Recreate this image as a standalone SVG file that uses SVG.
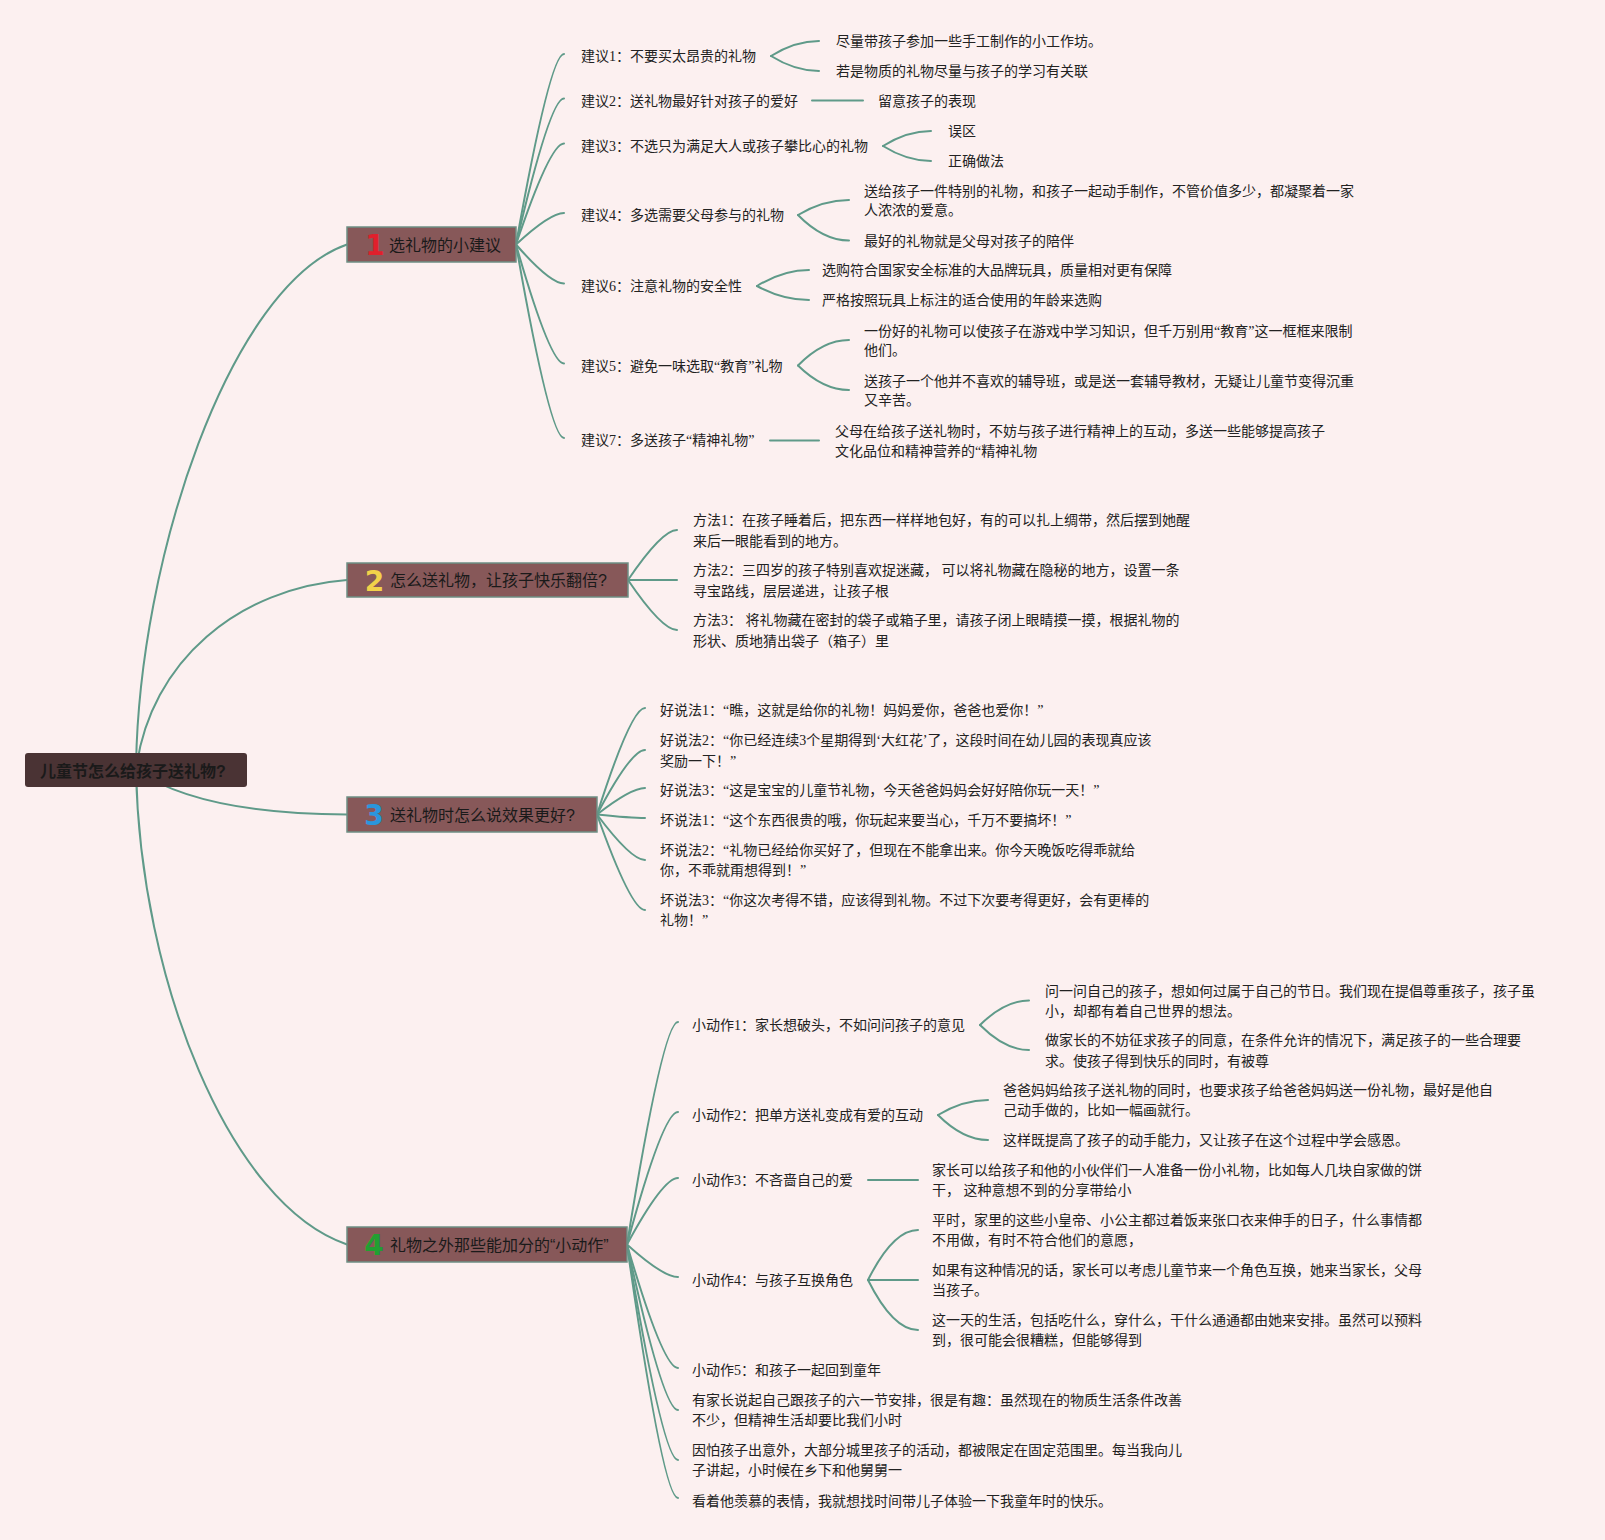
<svg xmlns="http://www.w3.org/2000/svg" width="1605" height="1540" viewBox="0 0 1605 1540">
<style>
.bg{fill:#fcf0f0}
.c{fill:none;stroke:#5f9a89;stroke-width:2;stroke-linecap:round}
.t{font-family:"Liberation Serif","Noto Sans CJK SC",serif;font-size:14px;fill:#222}
.nt{font-family:"Liberation Sans","Noto Sans CJK SC",sans-serif;font-size:16px;fill:#1a1a1a}
.node{fill:#875859;stroke:#6e8f84;stroke-width:1.5}
.num{font-family:"DejaVu Sans",sans-serif;font-weight:bold;font-size:28px;text-anchor:middle}
</style>
<rect class="bg" x="0" y="0" width="1605" height="1540"/>
<g id="connectors">
<path class="c" d="M136,770 C138,560 230,285 347,244.5"/>
<path class="c" d="M136,770 C150,660 240,588 347,580"/>
<path class="c" d="M136,770 Q200,814 347,814.5"/>
<path class="c" d="M136,770 C140,980 230,1205 347,1244.5"/>
<path class="c" d="M516,244.5 Q550,54 564,54"/>
<path class="c" d="M516,244.5 Q550,98.5 564,98.5"/>
<path class="c" d="M516,244.5 Q550,143.5 564,143.5"/>
<path class="c" d="M516,244.5 Q550,213 564,213"/>
<path class="c" d="M516,244.5 Q550,283.5 564,283.5"/>
<path class="c" d="M516,244.5 Q550,363.5 564,363.5"/>
<path class="c" d="M516,244.5 Q550,438 564,438"/>
<path class="c" d="M771,56 Q795,41 819,41"/>
<path class="c" d="M771,56 Q795,71 819,71"/>
<path class="c" d="M812,100.5 L863,100.5"/>
<path class="c" d="M883,146 Q907,131 931,131"/>
<path class="c" d="M883,146 Q907,161 931,161"/>
<path class="c" d="M798,215 Q823,200 849,200"/>
<path class="c" d="M798,215 Q823,240.5 849,240.5"/>
<path class="c" d="M757,286 Q783,270 809,270"/>
<path class="c" d="M757,286 Q783,300 809,300"/>
<path class="c" d="M798,365.5 Q823,340 849,340"/>
<path class="c" d="M798,365.5 Q823,390 849,390"/>
<path class="c" d="M770,440.5 L819,440.5"/>
<path class="c" d="M628,580 Q662,530 677,530"/>
<path class="c" d="M628,580 L677,580"/>
<path class="c" d="M628,580 Q662,630 677,630"/>
<path class="c" d="M597,814.5 Q631,708 645,708"/>
<path class="c" d="M597,814.5 Q631,750 645,750"/>
<path class="c" d="M597,814.5 Q631,788 645,788"/>
<path class="c" d="M597,814.5 Q631,818 645,818"/>
<path class="c" d="M597,814.5 Q631,860 645,860"/>
<path class="c" d="M597,814.5 Q631,910 645,910"/>
<path class="c" d="M627,1244.5 Q663,1022 678,1022"/>
<path class="c" d="M627,1244.5 Q663,1112 678,1112"/>
<path class="c" d="M627,1244.5 Q663,1178 678,1178"/>
<path class="c" d="M627,1244.5 Q663,1277 678,1277"/>
<path class="c" d="M627,1244.5 Q663,1368 678,1368"/>
<path class="c" d="M627,1244.5 Q663,1410 678,1410"/>
<path class="c" d="M627,1244.5 Q663,1460 678,1460"/>
<path class="c" d="M627,1244.5 Q663,1498 678,1498"/>
<path class="c" d="M980,1025 Q1005,1000.5 1029,1000.5"/>
<path class="c" d="M980,1025 Q1005,1050 1029,1050"/>
<path class="c" d="M938,1115 Q963,1100 988,1100"/>
<path class="c" d="M938,1115 Q963,1140 988,1140"/>
<path class="c" d="M868,1180 L918,1180"/>
<path class="c" d="M868,1280 Q893,1230 918,1230"/>
<path class="c" d="M868,1280 L918,1280"/>
<path class="c" d="M868,1280 Q893,1330 918,1330"/>
</g>
<g id="root">
<rect x="25" y="753" width="222" height="34" rx="3" fill="#4a3334"/>
<text x="40" y="777" class="nt" font-weight="bold" fill="#140e0e">儿童节怎么给孩子送礼物?</text>
</g>
<g id="n1">
<rect class="node" x="347" y="227" width="169" height="35"/>
<text x="375" y="255" class="num" fill="#e0202c">1</text>
<text x="389" y="250.5" class="nt">选礼物的小建议</text>
</g>
<g id="n2">
<rect class="node" x="347" y="563" width="281" height="34"/>
<text x="374.5" y="590.5" class="num" fill="#f2d24a">2</text>
<text x="390" y="586" class="nt">怎么送礼物，让孩子快乐翻倍?</text>
</g>
<g id="n3">
<rect class="node" x="347" y="797" width="250" height="35"/>
<text x="374" y="825" class="num" fill="#2a96dc">3</text>
<text x="390" y="820.5" class="nt">送礼物时怎么说效果更好?</text>
</g>
<g id="n4">
<rect class="node" x="347" y="1227" width="280" height="35"/>
<text x="374" y="1255" class="num" fill="#22a032">4</text>
<text x="390" y="1250.5" class="nt">礼物之外那些能加分的“小动作”</text>
</g>
<g id="s1">
<text class="t" x="581" y="61">建议1：不要买太昂贵的礼物</text>
<text class="t" x="581" y="105.5">建议2：送礼物最好针对孩子的爱好</text>
<text class="t" x="581" y="150.5">建议3：不选只为满足大人或孩子攀比心的礼物</text>
<text class="t" x="581" y="220">建议4：多选需要父母参与的礼物</text>
<text class="t" x="581" y="290.5">建议6：注意礼物的安全性</text>
<text class="t" x="581" y="370.5">建议5：避免一味选取“教育”礼物</text>
<text class="t" x="581" y="445">建议7：多送孩子“精神礼物”</text>
</g>
<g id="s1c">
<text class="t" x="836" y="46">尽量带孩子参加一些手工制作的小工作坊。</text>
<text class="t" x="836" y="76">若是物质的礼物尽量与孩子的学习有关联</text>
<text class="t" x="878" y="105.5">留意孩子的表现</text>
<text class="t" x="948" y="136">误区</text>
<text class="t" x="948" y="166">正确做法</text>
<text class="t" x="864" y="195.5">送给孩子一件特别的礼物，和孩子一起动手制作，不管价值多少，都凝聚着一家</text>
<text class="t" x="864" y="215">人浓浓的爱意。</text>
<text class="t" x="864" y="245.5">最好的礼物就是父母对孩子的陪伴</text>
<text class="t" x="822" y="275">选购符合国家安全标准的大品牌玩具，质量相对更有保障</text>
<text class="t" x="822" y="305">严格按照玩具上标注的适合使用的年龄来选购</text>
<text class="t" x="864" y="335.5">一份好的礼物可以使孩子在游戏中学习知识，但千万别用“教育”这一框框来限制</text>
<text class="t" x="864" y="355">他们。</text>
<text class="t" x="864" y="385.5">送孩子一个他并不喜欢的辅导班，或是送一套辅导教材，无疑让儿童节变得沉重</text>
<text class="t" x="864" y="405">又辛苦。</text>
<text class="t" x="835" y="436">父母在给孩子送礼物时，不妨与孩子进行精神上的互动，多送一些能够提高孩子</text>
<text class="t" x="835" y="455.5">文化品位和精神营养的“精神礼物</text>
</g>
<g id="s2">
<text class="t" x="693" y="525">方法1：在孩子睡着后，把东西一样样地包好，有的可以扎上绸带，然后摆到她醒</text>
<text class="t" x="693" y="545.5">来后一眼能看到的地方。</text>
<text class="t" x="693" y="575">方法2：三四岁的孩子特别喜欢捉迷藏， 可以将礼物藏在隐秘的地方，设置一条</text>
<text class="t" x="693" y="595.5">寻宝路线，层层递进，让孩子根</text>
<text class="t" x="693" y="625">方法3： 将礼物藏在密封的袋子或箱子里，请孩子闭上眼睛摸一摸，根据礼物的</text>
<text class="t" x="693" y="645.5">形状、质地猜出袋子（箱子）里</text>
</g>
<g id="s3">
<text class="t" x="660" y="715">好说法1：“瞧，这就是给你的礼物！妈妈爱你，爸爸也爱你！”</text>
<text class="t" x="660" y="745">好说法2：“你已经连续3个星期得到‘大红花’了，这段时间在幼儿园的表现真应该</text>
<text class="t" x="660" y="765.5">奖励一下！”</text>
<text class="t" x="660" y="795">好说法3：“这是宝宝的儿童节礼物，今天爸爸妈妈会好好陪你玩一天！”</text>
<text class="t" x="660" y="825">坏说法1：“这个东西很贵的哦，你玩起来要当心，千万不要搞坏！”</text>
<text class="t" x="660" y="855">坏说法2：“礼物已经给你买好了，但现在不能拿出来。你今天晚饭吃得乖就给</text>
<text class="t" x="660" y="875">你，不乖就甭想得到！”</text>
<text class="t" x="660" y="905">坏说法3：“你这次考得不错，应该得到礼物。不过下次要考得更好，会有更棒的</text>
<text class="t" x="660" y="925">礼物！”</text>
</g>
<g id="s4">
<text class="t" x="692" y="1029.5">小动作1：家长想破头，不如问问孩子的意见</text>
<text class="t" x="692" y="1119.5">小动作2：把单方送礼变成有爱的互动</text>
<text class="t" x="692" y="1185">小动作3：不吝啬自己的爱</text>
<text class="t" x="692" y="1284.5">小动作4：与孩子互换角色</text>
<text class="t" x="692" y="1375">小动作5：和孩子一起回到童年</text>
<text class="t" x="692" y="1405">有家长说起自己跟孩子的六一节安排，很是有趣：虽然现在的物质生活条件改善</text>
<text class="t" x="692" y="1425">不少，但精神生活却要比我们小时</text>
<text class="t" x="692" y="1455">因怕孩子出意外，大部分城里孩子的活动，都被限定在固定范围里。每当我向儿</text>
<text class="t" x="692" y="1475">子讲起，小时候在乡下和他舅舅一</text>
<text class="t" x="692" y="1505.5">看着他羡慕的表情，我就想找时间带儿子体验一下我童年时的快乐。</text>
</g>
<g id="s4c">
<text class="t" x="1045" y="996">问一问自己的孩子，想如何过属于自己的节日。我们现在提倡尊重孩子，孩子虽</text>
<text class="t" x="1045" y="1015.5">小，却都有着自己世界的想法。</text>
<text class="t" x="1045" y="1045">做家长的不妨征求孩子的同意，在条件允许的情况下，满足孩子的一些合理要</text>
<text class="t" x="1045" y="1065.5">求。使孩子得到快乐的同时，有被尊</text>
<text class="t" x="1003" y="1095">爸爸妈妈给孩子送礼物的同时，也要求孩子给爸爸妈妈送一份礼物，最好是他自</text>
<text class="t" x="1003" y="1115">己动手做的，比如一幅画就行。</text>
<text class="t" x="1003" y="1145">这样既提高了孩子的动手能力，又让孩子在这个过程中学会感恩。</text>
<text class="t" x="932" y="1175">家长可以给孩子和他的小伙伴们一人准备一份小礼物，比如每人几块自家做的饼</text>
<text class="t" x="932" y="1195">干， 这种意想不到的分享带给小</text>
<text class="t" x="932" y="1225">平时，家里的这些小皇帝、小公主都过着饭来张口衣来伸手的日子，什么事情都</text>
<text class="t" x="932" y="1245">不用做，有时不符合他们的意愿，</text>
<text class="t" x="932" y="1275">如果有这种情况的话，家长可以考虑儿童节来一个角色互换，她来当家长，父母</text>
<text class="t" x="932" y="1295">当孩子。</text>
<text class="t" x="932" y="1325">这一天的生活，包括吃什么，穿什么，干什么通通都由她来安排。虽然可以预料</text>
<text class="t" x="932" y="1345">到，很可能会很糟糕，但能够得到</text>
</g>
</svg>
